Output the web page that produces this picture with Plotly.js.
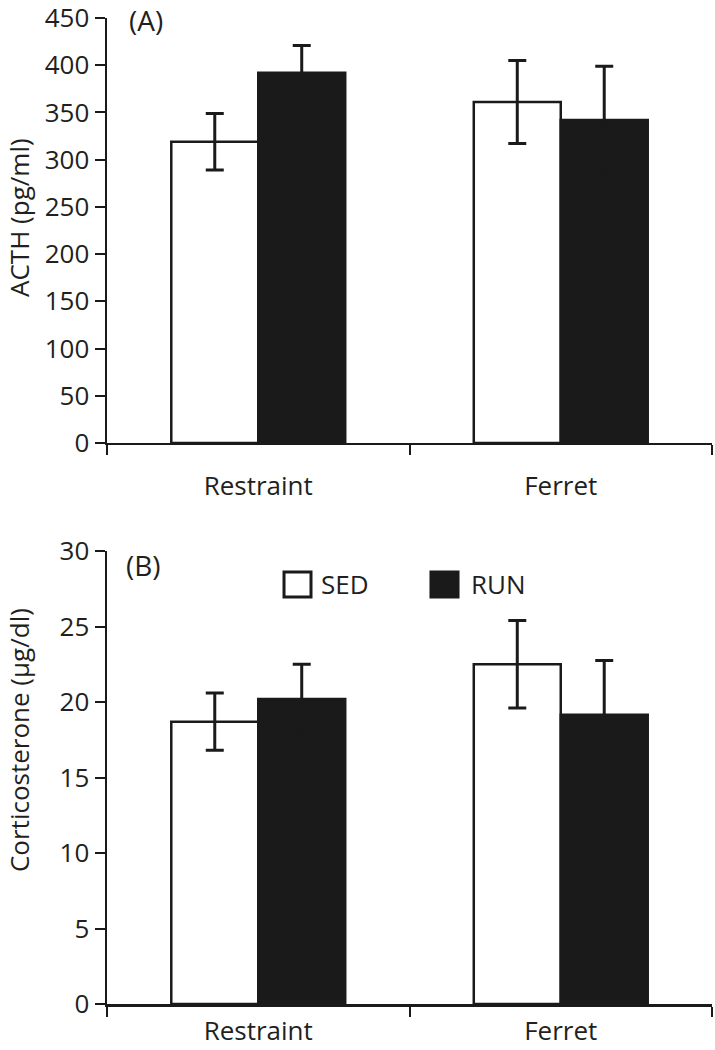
<!DOCTYPE html>
<html>
<head>
<meta charset="utf-8">
<script src="https://cdn.plot.ly/plotly-3.0.1.min.js"></script>
<style>
html,body{margin:0;padding:0;background:#fff;}
#chart{width:715px;height:1050px;}
</style>
</head>
<body>
<div id="chart"></div>
<script>
// ---- data ----
var categories = ["Restraint", "Ferret"];
var seriesNames = ["SED", "RUN"];
var acthSED = [319, 361];
var acthSEDErr = [30, 44];
var acthRUN = [392, 342];
var acthRUNErr = [29, 57];
var corticoSED = [18.7, 22.5];
var corticoSEDErr = [1.9, 2.9];
var corticoRUN = [20.2, 19.15];
var corticoRUNErr = [2.3, 3.6];
var acthTicks = [0, 50, 100, 150, 200, 250, 300, 350, 400, 450];
var corticoTicks = [0, 5, 10, 15, 20, 25, 30];
var acthTitle = "ACTH (pg/ml)";
var corticoTitle = "Corticosterone (μg/dl)";

// ---- styles ----
var INK = "#1a1a1a";
var TXT = "#231f20";
var FONT = "Open Sans, sans-serif";

function barTrace(name, vals, errs, fill, xa, ya) {
  return {
    type: "bar", name: name, x: categories, y: vals,
    xaxis: xa, yaxis: ya, showlegend: false,
    marker: {color: fill, line: {color: INK, width: 2.5}},
    error_y: {type: "data", array: errs, visible: true, color: INK, thickness: 3, width: 9}
  };
}

var data = [
  barTrace(seriesNames[0], acthSED, acthSEDErr, "#ffffff", "x", "y"),
  barTrace(seriesNames[1], acthRUN, acthRUNErr, INK, "x", "y"),
  barTrace(seriesNames[0], corticoSED, corticoSEDErr, "#ffffff", "x2", "y2"),
  barTrace(seriesNames[1], corticoRUN, corticoRUNErr, INK, "x2", "y2")
];

function xAxis(anchor, standoff) {
  return {
    anchor: anchor, domain: [0, 1], type: "category", range: [-0.5, 1.5],
    tickson: "boundaries", ticks: "outside", ticklen: 10, tickwidth: 2, tickcolor: INK,
    showline: true, linewidth: 2.5, linecolor: INK, showgrid: false, zeroline: false,
    tickfont: {family: FONT, size: 26, color: TXT}, ticklabelstandoff: standoff,
    ticklabeloverflow: "allow", fixedrange: true
  };
}
function yAxis(anchor, domain, range, ticks) {
  return {
    anchor: anchor, domain: domain, range: range, tickmode: "array", tickvals: ticks,
    ticktext: ticks.map(String),
    ticks: "outside", ticklen: 10, tickwidth: 2, tickcolor: INK,
    showline: true, linewidth: 2.5, linecolor: INK, showgrid: false, zeroline: false,
    tickfont: {family: FONT, size: 26, color: TXT},
    ticklabeloverflow: "allow", fixedrange: true
  };
}

var layout = {
  width: 715, height: 1050,
  margin: {l: 107, r: 3, t: 18, b: 46},
  paper_bgcolor: "#ffffff", plot_bgcolor: "#ffffff",
  barmode: "group", bargap: 0.425, bargroupgap: 0,
  showlegend: false,
  xaxis: xAxis("y", 18),
  yaxis: yAxis("x", [0.569, 1], [0, 450], acthTicks),
  xaxis2: xAxis("y2", 2),
  yaxis2: yAxis("x2", [0, 0.4594], [0, 30], corticoTicks),
  shapes: [
    {type: "rect", xref: "paper", yref: "paper", x0: 0.2926, x1: 0.3372, y0: 0.4128, y1: 0.4381,
     fillcolor: "#ffffff", line: {color: INK, width: 3}},
    {type: "rect", xref: "paper", yref: "paper", x0: 0.5355, x1: 0.5802, y0: 0.4128, y1: 0.4381,
     fillcolor: INK, line: {color: INK, width: 3}}
  ],
  annotations: [
    {text: acthTitle, xref: "paper", yref: "paper", x: -0.1455, y: 0.7982, xanchor: "center", yanchor: "middle",
     textangle: -90, showarrow: false, font: {family: FONT, size: 26, color: TXT}},
    {text: corticoTitle, xref: "paper", yref: "paper", x: -0.1455, y: 0.2677, xanchor: "center", yanchor: "middle",
     textangle: -90, showarrow: false, font: {family: FONT, size: 26, color: TXT}},
    {text: "(A)", xref: "paper", yref: "paper", x: 0.033, y: 0.998, xanchor: "left", yanchor: "middle",
     showarrow: false, font: {family: FONT, size: 28, color: TXT}},
    {text: "(B)", xref: "paper", yref: "paper", x: 0.028, y: 0.4452, xanchor: "left", yanchor: "middle",
     showarrow: false, font: {family: FONT, size: 28, color: TXT}},
    {text: seriesNames[0], xref: "paper", yref: "paper", x: 0.35, y: 0.426, xanchor: "left", yanchor: "middle",
     showarrow: false, font: {family: FONT, size: 26, color: TXT}},
    {text: seriesNames[1], xref: "paper", yref: "paper", x: 0.598, y: 0.426, xanchor: "left", yanchor: "middle",
     showarrow: false, font: {family: FONT, size: 26, color: TXT}}
  ]
};

Plotly.newPlot("chart", data, layout, {staticPlot: true, displayModeBar: false});
</script>
</body>
</html>
